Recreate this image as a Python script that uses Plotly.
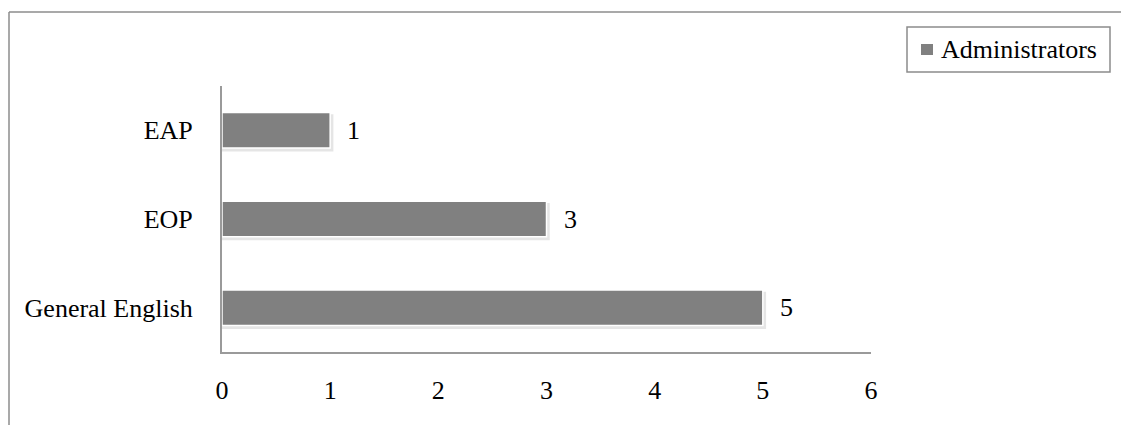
import plotly.graph_objects as go

# Course types (bottom to top) and number of administrators choosing each
categories = ["General English", "EOP", "EAP"]
administrators = [5, 3, 1]
x_ticks = [0, 1, 2, 3, 4, 5, 6]
series_name = "Administrators"

W, H = 1121, 425
ML, MR, MT, MB = 222, 250, 86, 73
PW, PH = W - ML - MR, H - MT - MB

FONT = dict(family="Liberation Serif", size=26, color="#000000")
AXIS_GRAY = "#9a9a9a"
BAR_GRAY = "#808080"


def px_x(px):
    """Pixel column -> paper x."""
    return (px - ML) / PW


def px_y(py):
    """Pixel row (from top) -> paper y."""
    return 1 - (py - MT) / PH


fig = go.Figure()

# soft drop shadow behind each bar
fig.add_trace(go.Bar(
    y=categories, x=[v + 0.03 for v in administrators], orientation="h",
    width=0.42, offset=-0.24,
    marker=dict(color="rgba(0,0,0,0.10)", line=dict(width=0)),
    showlegend=False, hoverinfo="skip",
))

fig.add_trace(go.Bar(
    y=categories, x=administrators, orientation="h", name=series_name,
    width=0.4, offset=-0.2,
    marker=dict(color=BAR_GRAY, line=dict(color="#ffffff", width=1.5)),
    showlegend=False,
))

# value labels to the right of each bar
for cat, v in zip(categories, administrators):
    fig.add_annotation(x=v, y=cat, text=str(v), showarrow=False,
                       xanchor="left", yanchor="middle", xshift=15,
                       font=FONT)

# outer frame: top edge and left edge
fig.add_shape(type="line", xref="paper", yref="paper",
              x0=px_x(9), x1=px_x(W), y0=px_y(12), y1=px_y(12),
              line=dict(color="#8c8c8c", width=1.5))
fig.add_shape(type="line", xref="paper", yref="paper",
              x0=px_x(9), x1=px_x(9), y0=px_y(12), y1=px_y(H),
              line=dict(color="#8c8c8c", width=1.5))

# legend box with a square swatch and the series name
fig.add_shape(type="rect", xref="paper", yref="paper",
              x0=px_x(907), x1=px_x(1110), y0=px_y(27), y1=px_y(72),
              line=dict(color="#8c8c8c", width=1.5), fillcolor="#ffffff")
fig.add_shape(type="rect", xref="paper", yref="paper",
              x0=px_x(921), x1=px_x(933), y0=px_y(44), y1=px_y(55),
              line=dict(width=0), fillcolor=BAR_GRAY)
fig.add_annotation(xref="paper", yref="paper", x=px_x(939), y=px_y(49.5),
                   text=series_name, showarrow=False,
                   xanchor="left", yanchor="middle", font=FONT)

fig.update_layout(
    width=W, height=H,
    margin=dict(l=ML, r=MR, t=MT, b=MB, pad=0),
    paper_bgcolor="#ffffff", plot_bgcolor="#ffffff",
    barmode="overlay",
    font=FONT,
    showlegend=False,
    xaxis=dict(
        range=[0, 6], tickvals=x_ticks, ticktext=[str(t) for t in x_ticks],
        showgrid=False, zeroline=False, showline=True, linecolor=AXIS_GRAY,
        linewidth=2, ticks="", tickfont=FONT, ticklabelstandoff=14,
    ),
    yaxis=dict(
        categoryorder="array", categoryarray=categories,
        range=[-0.5, 2.5],
        showgrid=False, zeroline=False, showline=True, linecolor=AXIS_GRAY,
        linewidth=2, ticks="", tickfont=FONT, ticklabelstandoff=22,
    ),
)

fig.write_html("out.html")
